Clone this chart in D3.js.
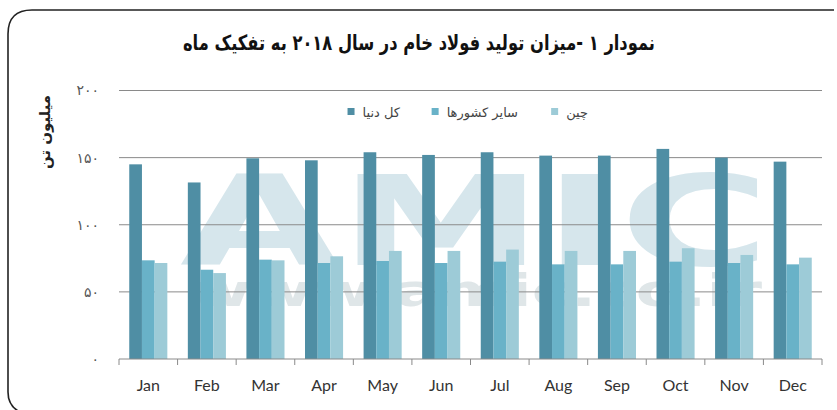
<!DOCTYPE html>
<html>
<head>
<meta charset="utf-8">
<script src="https://cdn.jsdelivr.net/npm/d3@7"></script>
<style>
  body { margin: 0; background: #fff; }
  svg { display: block; }
</style>
</head>
<body>
<div id="chart"></div>
<script>
// months and the three series (million tonnes)
var months = ["Jan", "Feb", "Mar", "Apr", "May", "Jun", "Jul", "Aug", "Sep", "Oct", "Nov", "Dec"];
var world = [145, 131.5, 149.5, 148, 154, 152, 154, 151.5, 151.5, 156.5, 150, 147];
var others = [73.5, 66.5, 74, 71.5, 73, 71.5, 72.5, 70.5, 70.5, 72.5, 71.5, 70.5];
var china = [71.5, 64, 73.5, 76.5, 80.5, 80.5, 81.5, 80.5, 80.5, 82.5, 77.5, 75.5];

var seriesNames = ["کل دنیا", "سایر کشورها", "چین"];
var seriesColors = ["#4f8ea4", "#69b2c8", "#9dcbd7"];
var yTicks = [0, 50, 100, 150, 200];

var W = 837, H = 410;
var margin = { top: 90.5, right: 15, bottom: 51, left: 119 };

var svg = d3.select("#chart").append("svg")
    .attr("width", W)
    .attr("height", H);

// frame: top edge and left edge with rounded corners
svg.append("path")
    .attr("d", "M834,10 L32,10 Q8,10 8,34 L8,392 Q8,406 20,412")
    .attr("fill", "none")
    .attr("stroke", "#222")
    .attr("stroke-width", 1.6);

// title
svg.append("text")
    .attr("x", 419)
    .attr("y", 50)
    .attr("text-anchor", "middle")
    .attr("textLength", 472)
    .attr("lengthAdjust", "spacingAndGlyphs")
    .style("font-family", "'DejaVu Sans', sans-serif")
    .style("font-weight", "bold")
    .style("font-size", "21px")
    .attr("fill", "#111")
    .text("نمودار ۱ -میزان تولید فولاد خام در سال ۲۰۱۸ به تفکیک ماه");

var x0 = d3.scaleBand()
    .domain(months)
    .range([margin.left, W - margin.right])
    .paddingInner(0.35)
    .paddingOuter(0.175);

var x1 = d3.scaleBand()
    .domain(d3.range(3))
    .range([0, x0.bandwidth()]);

var y = d3.scaleLinear()
    .domain([0, 200])
    .range([H - margin.bottom, margin.top]);

// watermark, one text element with two lines
var wm = svg.append("text")
    .style("font-family", "'DejaVu Sans', sans-serif")
    .style("font-weight", "bold");
wm.append("tspan")
    .attr("x", 180)
    .attr("y", 265)
    .attr("textLength", 590)
    .attr("lengthAdjust", "spacingAndGlyphs")
    .style("font-size", "124px")
    .attr("fill", "#d6e6ec")
    .text("AMIC");
wm.append("tspan")
    .attr("x", 190)
    .attr("y", 306)
    .attr("textLength", 572)
    .attr("lengthAdjust", "spacingAndGlyphs")
    .style("font-size", "44px")
    .attr("fill", "#dfe6e8")
    .text("www.amic.co.ir");

// gridlines
svg.append("g")
    .selectAll("line")
    .data(yTicks.filter(function (d) { return d > 0; }))
    .enter()
    .append("line")
    .attr("x1", margin.left)
    .attr("x2", W - margin.right)
    .attr("y1", function (d) { return y(d); })
    .attr("y2", function (d) { return y(d); })
    .attr("stroke", "#8a8a8a")
    .attr("stroke-width", 1);

// y tick labels (Persian digits)
var fa = function (n) {
    return String(n).replace(/[0-9]/g, function (c) { return "۰۱۲۳۴۵۶۷۸۹"[+c]; });
};
svg.append("g")
    .selectAll("text")
    .data(yTicks)
    .enter()
    .append("text")
    .attr("x", 99)
    .attr("y", function (d) { return y(d); })
    .attr("dy", "0.35em")
    .attr("text-anchor", "end")
    .style("font-family", "'DejaVu Sans', sans-serif")
    .style("font-size", "14px")
    .style("letter-spacing", "2px")
    .attr("fill", "#555")
    .text(function (d) { return fa(d); });

// y axis title
svg.append("text")
    .attr("transform", "translate(50," + 132 + ") rotate(-90)")
    .attr("text-anchor", "middle")
    .style("font-family", "'DejaVu Sans', sans-serif")
    .style("font-weight", "bold")
    .style("font-size", "15px")
    .attr("fill", "#222")
    .text("میلیون تن");

// bars
var data = months.map(function (m, i) { return [world[i], others[i], china[i]]; });
svg.append("g")
    .selectAll("g")
    .data(data)
    .enter()
    .append("g")
    .attr("transform", function (d, i) { return "translate(" + x0(months[i]) + ",0)"; })
    .selectAll("rect")
    .data(function (d) { return d; })
    .enter()
    .append("rect")
    .attr("x", function (d, j) { return x1(j); })
    .attr("width", x1.bandwidth())
    .attr("y", function (d) { return y(d); })
    .attr("height", function (d) { return y(0) - y(d); })
    .attr("fill", function (d, j) { return seriesColors[j]; });

// x axis
var xAxis = svg.append("g")
    .attr("transform", "translate(0," + y(0) + ")");
xAxis.append("line")
    .attr("x1", margin.left)
    .attr("x2", W - margin.right)
    .attr("stroke", "#8a8a8a");
xAxis.selectAll("line.tick")
    .data(d3.range(months.length + 1))
    .enter()
    .append("line")
    .attr("class", "tick")
    .attr("x1", function (i) { return margin.left + i * x0.step(); })
    .attr("x2", function (i) { return margin.left + i * x0.step(); })
    .attr("y1", 0)
    .attr("y2", 6)
    .attr("stroke", "#8a8a8a");
xAxis.selectAll("text")
    .data(months)
    .enter()
    .append("text")
    .attr("x", function (d) { return x0(d) + x0.bandwidth() / 2; })
    .attr("y", 32)
    .attr("text-anchor", "middle")
    .style("font-family", "Lato, sans-serif")
    .style("font-size", "16px")
    .attr("fill", "#333")
    .text(function (d) { return d; });

// legend (right to left): text right edge at legendX, square to its left
var legendX = [400, 518, 588];
var legend = svg.append("g");
seriesNames.forEach(function (name, j) {
    var t = legend.append("text")
        .attr("x", legendX[j])
        .attr("y", 117)
        .attr("text-anchor", "end")
        .style("font-family", "'DejaVu Sans', sans-serif")
        .style("font-size", "13px")
        .attr("fill", "#444")
        .text(name);
    var w = t.node().getComputedTextLength();
    legend.append("rect")
        .attr("x", legendX[j] - w - 15)
        .attr("y", 108)
        .attr("width", 7)
        .attr("height", 7)
        .attr("fill", seriesColors[j]);
});
</script>
</body>
</html>
